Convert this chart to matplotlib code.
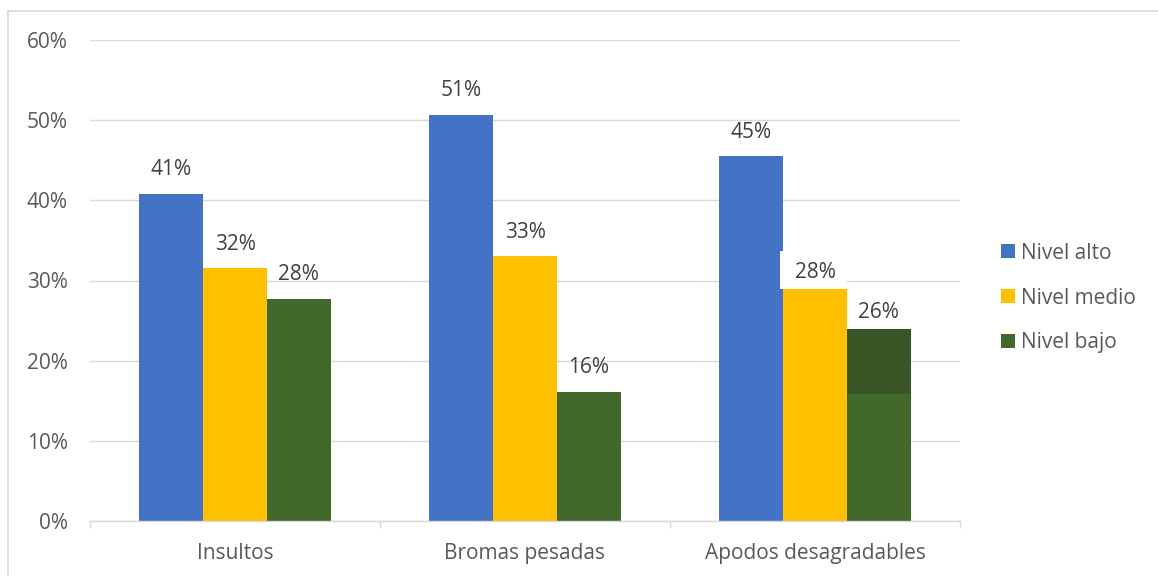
import matplotlib
matplotlib.use("Agg")
import matplotlib.pyplot as plt
from matplotlib.lines import Line2D
from matplotlib.patches import Rectangle, Patch
import numpy as np

# datos
categorias = ["Insultos", "Bromas pesadas", "Apodos desagradables"]
series = ["Nivel alto", "Nivel medio", "Nivel bajo"]
nivel_alto = [40.8, 50.7, 45.5]
nivel_medio = [31.5, 33.0, 28.9]
nivel_bajo = [27.7, 16.1, 23.9]
etiquetas_alto = ["41%", "51%", "45%"]
etiquetas_medio = ["32%", "33%", "28%"]
etiquetas_bajo = ["28%", "16%", "26%"]
yticks = [0, 10, 20, 30, 40, 50, 60]

colores = ["#4472C4", "#FFC000", "#43682B"]
gris_texto = "#595959"
gris_etiqueta = "#404040"
gris_linea = "#D9D9D9"

plt.rcParams['font.family'] = ['Open Sans', 'DejaVu Sans']

fig = plt.figure(figsize=(11.58, 5.76), dpi=100)
ax = fig.add_axes([90 / 1158, 55 / 576, 870 / 1158, 481 / 576])

x = np.arange(len(categorias))
w = 0.22
valores = [nivel_alto, nivel_medio, nivel_bajo]
etiquetas = [etiquetas_alto, etiquetas_medio, etiquetas_bajo]

for i, (vals, col) in enumerate(zip(valores, colores)):
    pos = x + (i - 1) * w
    ax.bar(pos, vals, width=w, color=col, edgecolor="none", zorder=2)
    for j, (p, v, lab) in enumerate(zip(pos, vals, etiquetas[i])):
        dy = 24
        if j == 2 and i > 0:
            dy = 17
        ax.annotate(lab, (p, v), xytext=(0, dy * 0.72), textcoords="offset points",
                    ha="center", va="center", fontsize=15, color=gris_etiqueta, zorder=5)

# parte oscura en la barra verde de "Apodos desagradables"
pos_bajo = x[2] + w
ax.bar(pos_bajo, nivel_bajo[2] - 15.8, bottom=15.8, width=w, color="#3A5526",
       edgecolor="none", zorder=3)

# recuadro blanco detrás de la etiqueta 28%
pos_medio = x[2]
ax.add_patch(Rectangle((pos_medio - w / 2 - 0.01, nivel_medio[2]), w + 0.01, 4.8,
                       facecolor="white", edgecolor="none", zorder=4))

ax.set_xlim(-0.5, 2.5)
ax.set_ylim(0, 60)
ax.set_yticks(yticks)
ax.set_yticklabels([f"{t}%" for t in yticks])
ax.set_xticks(x)
ax.set_xticklabels(categorias)
ax.set_xticks([-0.5, 0.5, 1.5, 2.5], minor=True)

ax.yaxis.grid(True, color=gris_linea, linewidth=1.0, zorder=0)
ax.set_axisbelow(True)
for s in ["top", "right", "left"]:
    ax.spines[s].set_visible(False)
ax.spines["bottom"].set_color(gris_linea)
ax.spines["bottom"].set_linewidth(1.0)

ax.tick_params(axis="y", length=0, pad=16, labelsize=15, labelcolor=gris_texto)
ax.tick_params(axis="x", which="major", length=0, pad=16, labelsize=15, labelcolor=gris_texto)
ax.tick_params(axis="x", which="minor", length=5, width=1.0, color=gris_linea)

# leyenda
handles = [Patch(facecolor=c, edgecolor="none") for c in colores]
ax.legend(handles, series, loc="center left", bbox_to_anchor=(1001 / 1158, 278 / 576),
          bbox_transform=fig.transFigure, frameon=False, fontsize=15,
          handlelength=0.68, handleheight=0.68, handletextpad=0.3,
          labelspacing=1.15, borderpad=0, borderaxespad=0, labelcolor=gris_texto)

# marco del gráfico
fig.add_artist(Line2D([8 / 1158, 8 / 1158], [0, 1 - 11 / 576], color=gris_linea, linewidth=1.2))
fig.add_artist(Line2D([8 / 1158, 1], [1 - 11 / 576, 1 - 11 / 576], color=gris_linea, linewidth=1.2))

fig.savefig("out.png", dpi=100, facecolor="white")
